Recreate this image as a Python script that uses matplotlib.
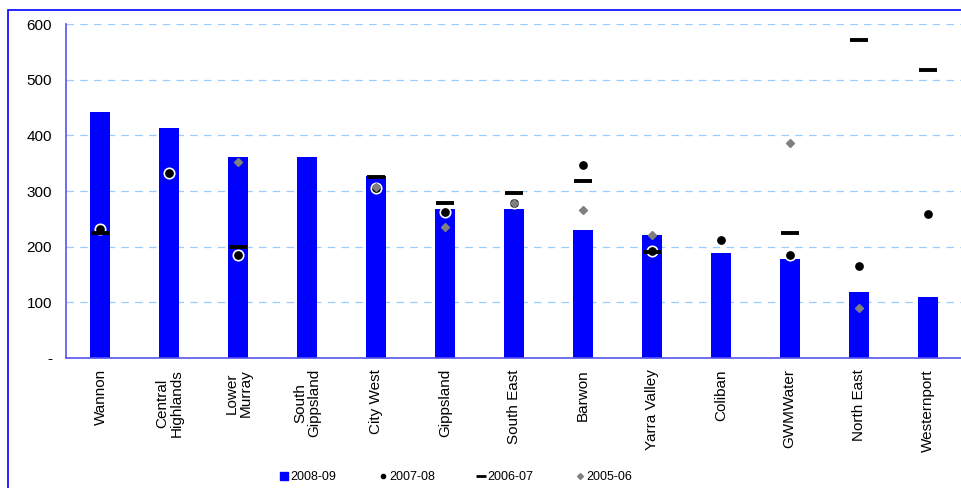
import matplotlib
matplotlib.use("Agg")
import matplotlib.pyplot as plt
from matplotlib.patches import Rectangle
from matplotlib.lines import Line2D
import numpy as np

plt.rcParams['font.family'] = ['Liberation Sans', 'DejaVu Sans']

regions = ["Wannon", "Central\nHighlands", "Lower\nMurray", "South\nGippsland", "City West",
           "Gippsland", "South East", "Barwon", "Yarra Valley", "Coliban", "GWMWater",
           "North East", "Westernport"]
v2008 = [442, 413, 361, 361, 327, 268, 268, 230, 221, 189, 178, 119, 110]
v2007 = [232, 332, 185, None, 306, 263, 279, 347, 192, 212, 185, 165, 259]
v2006 = [224, None, 199, None, 326, 278, 296, 318, 190, None, 225, 572, 517]
v2005 = [None, None, 353, None, 307, 235, 279, 265, 221, None, 386, 89, None]
yticks = [0, 100, 200, 300, 400, 500, 600]
ylabels = ["-", "100", "200", "300", "400", "500", "600"]

def pts(vals):
    xs = [i for i, v in enumerate(vals) if v is not None]
    ys = [v for v in vals if v is not None]
    return xs, ys

fig = plt.figure(figsize=(9.62, 4.88), dpi=100)
ax = fig.add_axes([0.0686, 0.2664, 0.9314, 0.6844])

x = np.arange(len(regions))
ax.bar(x, v2008, width=0.29, color='#0000ff', zorder=2)

# dots first, then dashes and diamonds on top
xs, ys = pts(v2007)
ax.plot(xs, ys, ls='none', marker='o', ms=7.5, mfc='black', mec='white', mew=1.2, zorder=3)
xs, ys = pts(v2006)
ax.plot(xs, ys, ls='none', marker='_', ms=13, mew=2.8, color='black', zorder=4)
xs, ys = pts(v2005)
ax.plot(xs, ys, ls='none', marker='D', ms=4.5, color='#808080', zorder=5)

ax.set_xlim(-0.5, len(regions) - 0.5)
ax.set_ylim(0, 600)
ax.set_yticks(yticks)
ax.set_yticklabels(ylabels, fontsize=11)
ax.set_xticks(x)
ax.set_xticklabels(regions, rotation=90, fontsize=11, linespacing=1.0, multialignment='center')
ax.tick_params(length=0, pad=8)
ax.tick_params(axis='y', pad=10)

for yv in yticks[1:]:
    ax.axhline(yv, color='#99ccff', lw=0.9, dashes=(6, 5), zorder=1)

for s in ['top', 'right']:
    ax.spines[s].set_visible(False)
for s in ['left', 'bottom']:
    ax.spines[s].set_color('#5555ee')
    ax.spines[s].set_linewidth(1.2)

handles = [
    Line2D([], [], ls='none', marker='s', ms=6, color='#0000ff'),
    Line2D([], [], ls='none', marker='o', ms=3, color='black'),
    Line2D([], [], ls='none', marker='_', ms=7, mew=2, color='black'),
    Line2D([], [], ls='none', marker='D', ms=3, color='#808080'),
]
fig.legend(handles, ["2008-09", "2007-08", "2006-07", "2005-06"], loc='center',
           bbox_to_anchor=(0.473, 0.022), ncol=4, frameon=False, fontsize=9,
           handletextpad=0.0, columnspacing=3.2, handlelength=1.0)

fig.patches.append(Rectangle((0.008, -0.02), 1.0, 0.999, transform=fig.transFigure,
                             fill=False, edgecolor='#0000ff', lw=1.2))

fig.savefig("out.png", dpi=100)
